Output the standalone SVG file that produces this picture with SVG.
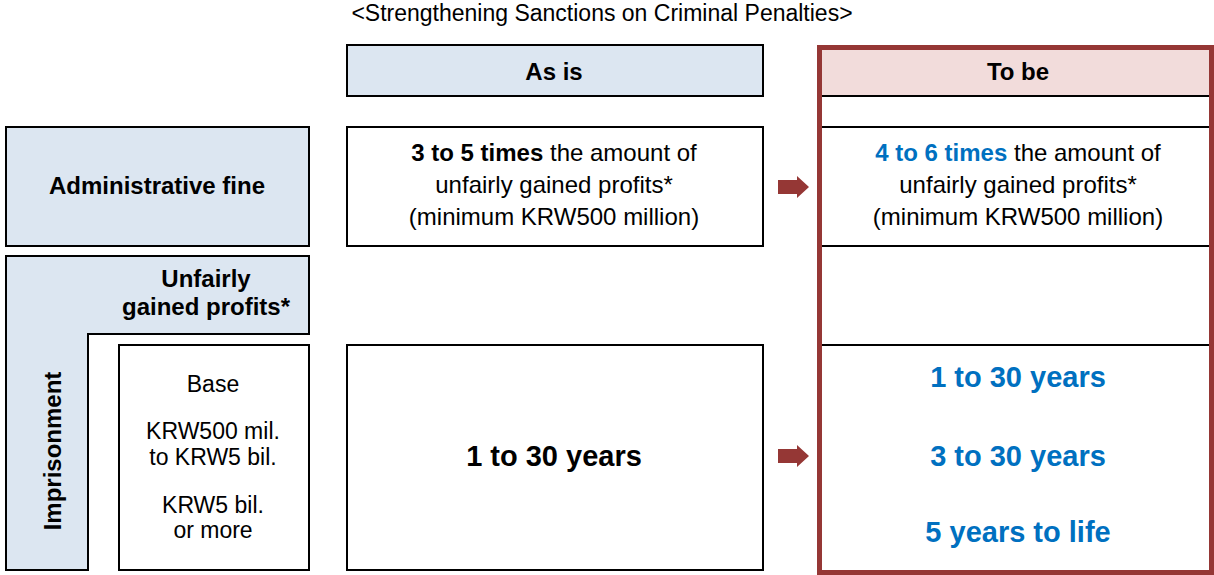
<svg xmlns="http://www.w3.org/2000/svg" width="1214" height="575" viewBox="0 0 1214 575">
<style>
text{font-family:"Liberation Sans",Arial,sans-serif;fill:#000;text-anchor:middle}
.box{stroke:#000;stroke-width:2;fill:#fff}
.blue{fill:#dce6f1}
.b{font-weight:bold}
.t20{font-size:24px}
.s{font-size:23px}
.t26{font-size:29px;font-weight:bold}
.hl{fill:#0070c0}
.arr{fill:#953735}
.sep{stroke:#000;stroke-width:2}
</style>
<rect width="1214" height="575" fill="#fff"/>
<text x="602" y="21" font-size="23">&lt;Strengthening Sanctions on Criminal Penalties&gt;</text>

<g id="admin-fine">
<rect class="box blue" x="6" y="127" width="303" height="119"/>
<text class="t20 b" x="157" y="194">Administrative fine</text>
</g>

<g id="imprisonment">
<path class="box blue" d="M6,256 H309 V334 H88 V570 H6 Z"/>
<text class="t20 b" x="206" y="287">Unfairly</text>
<text class="t20 b" x="206" y="315">gained profits*</text>
<text class="t20 b" transform="translate(61,451) rotate(-90)">Imprisonment</text>
</g>

<g id="profit-tiers">
<rect class="box" x="119" y="345" width="190" height="225"/>
<text class="s" x="213" y="392">Base</text>
<text class="s" x="213" y="439">KRW500 mil.</text>
<text class="s" x="213" y="465">to KRW5 bil.</text>
<text class="s" x="213" y="513">KRW5 bil.</text>
<text class="s" x="213" y="538">or more</text>
</g>

<g id="as-is-header">
<rect class="box blue" x="347" y="45" width="416" height="51"/>
<text class="t20 b" x="554" y="80">As is</text>
</g>

<g id="as-is-fine">
<rect class="box" x="347" y="127" width="416" height="119"/>
<text class="t20" x="554" y="161"><tspan class="b">3 to 5 times</tspan> the amount of</text>
<text class="t20" x="554" y="193">unfairly gained profits*</text>
<text class="t20" x="554" y="225">(minimum KRW500 million)</text>
</g>

<g id="as-is-prison">
<rect class="box" x="347" y="345" width="416" height="225"/>
<text class="t26" x="554" y="466">1 to 30 years</text>
</g>

<g id="to-be">
<rect x="822" y="50" width="392" height="46" fill="#f2dcdb"/>
<line class="sep" x1="822" y1="96" x2="1214" y2="96"/>
<line class="sep" x1="822" y1="127" x2="1214" y2="127"/>
<line class="sep" x1="822" y1="246" x2="1214" y2="246"/>
<line class="sep" x1="822" y1="345" x2="1214" y2="345"/>
<rect x="819.5" y="47.5" width="392" height="525" fill="none" stroke="#953735" stroke-width="5"/>
<text class="t20 b" x="1018" y="80">To be</text>
<text class="t20" x="1018" y="161"><tspan class="b hl">4 to 6 times</tspan> the amount of</text>
<text class="t20" x="1018" y="193">unfairly gained profits*</text>
<text class="t20" x="1018" y="225">(minimum KRW500 million)</text>
<text class="t26 hl" x="1018" y="387">1 to 30 years</text>
<text class="t26 hl" x="1018" y="466">3 to 30 years</text>
<text class="t26 hl" x="1018" y="542">5 years to life</text>
</g>

<g id="connectors">
<path class="arr" d="M778,180 H797 V176 L809,187 L797,198 V194 H778 Z"/>
<path class="arr" d="M778,449 H797 V445 L809,456 L797,467 V463 H778 Z"/>
</g>
</svg>
